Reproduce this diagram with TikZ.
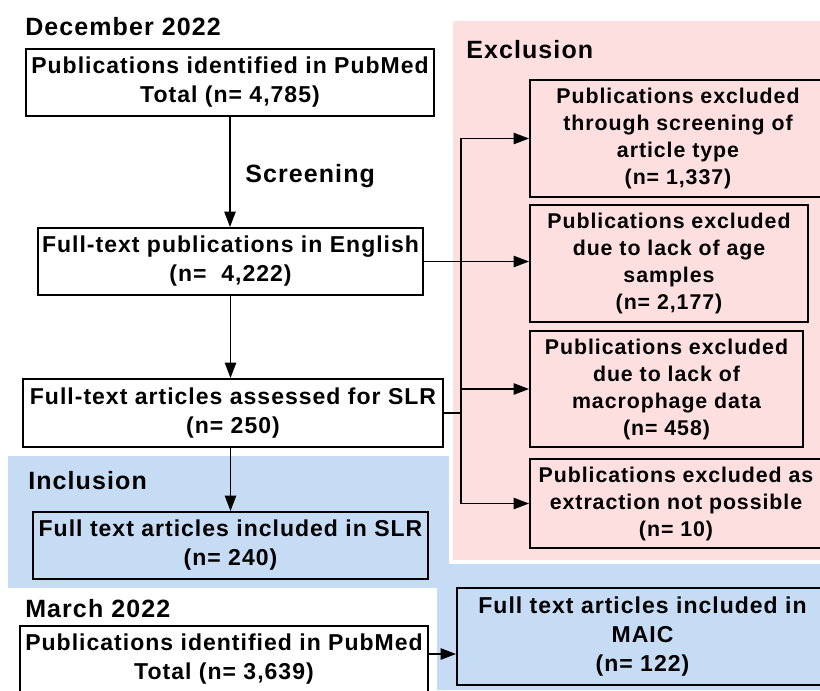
\documentclass[tikz,border=0pt]{standalone}
\usepackage{fontspec}
\usetikzlibrary{arrows.meta,calc}
\newfontfamily\flowfont{Liberation Sans}[LetterSpace=4.4]
\definecolor{exclpink}{RGB}{253,223,223}
\definecolor{inclblue}{RGB}{198,220,245}
\begin{document}
\begin{tikzpicture}[x=0.75pt,y=-0.75pt,
  box/.style={draw=black,line width=1.5pt,inner sep=0pt,align=center,
    font=\flowfont\bfseries\fontsize{17.25pt}{21.75pt}\selectfont},
  exbox/.style={box,font=\flowfont\bfseries\fontsize{16pt}{20.25pt}\selectfont},
  heading/.style={anchor=base west,inner sep=0pt,
    font=\flowfont\bfseries\fontsize{18.75pt}{22pt}\selectfont},
  arr/.style={draw=black,line width=1pt,-{Triangle[length=11.5pt,width=8.5pt]}},
  link/.style={draw=black,line width=1pt}]
\useasboundingbox (0,0) rectangle (820,690);
\clip (0,0) rectangle (820,690);

% shaded panels
\fill[exclpink] (453,21) rectangle (820,560);
\fill[inclblue] (8,456) rectangle (449,588);
\fill[inclblue] (437,564) rectangle (820,690);

% headings
\node[heading] (hdec) at (25,35) {December 2022};
\node[heading] (hscr) at (245,182) {Screening};
\node[heading] (hexc) at (466,58) {Exclusion};
\node[heading] (hinc) at (28,489) {Inclusion};
\node[heading] (hmar) at (25,617) {March 2022};

% main column
\node[box,fill=white,minimum width=306pt,minimum height=50.25pt] (b1) at (230,82.5)
  {Publications identified in PubMed\\Total (n= 4,785)};
\node[box,fill=white,minimum width=288.75pt,minimum height=50.25pt] (b2) at (230.5,261.5)
  {Full-text publications in English\\(n=\ \ 4,222)};
\node[box,fill=white,minimum width=315pt,minimum height=51pt] (b3) at (233,413)
  {Full-text articles assessed for SLR\\(n= 250)};
\node[box,minimum width=296.25pt,minimum height=50.25pt] (b4) at (230.5,545.5)
  {Full text articles included in SLR\\(n= 240)};
\node[box,fill=white,minimum width=306pt,minimum height=50.25pt] (b5) at (224,659.5)
  {Publications identified in PubMed\\Total (n= 3,639)};

% exclusion boxes
\node[exbox,minimum width=222pt,minimum height=87.75pt] (e1) at (678,138.5)
  {Publications excluded\\through screening of\\article type\\(n= 1,337)};
\node[exbox,minimum width=208.5pt,minimum height=87.75pt] (e2) at (669,263.5)
  {Publications excluded\\due to lack of age\\samples\\(n= 2,177)};
\node[exbox,minimum width=204.75pt,minimum height=87pt] (e3) at (666.5,389)
  {Publications excluded\\due to lack of\\macrophage data\\(n= 458)};
\node[exbox,minimum width=219pt,minimum height=66.75pt] (e4) at (676,503.5)
  {Publications excluded as\\extraction not possible\\(n= 10)};

% meta-analysis box
\node[box,minimum width=278.25pt,minimum height=72.75pt] (maic) at (642.5,636.5)
  {Full text articles included in\\MAIC\\(n= 122)};

% connectors
\draw[arr] (b1.south) -- (b1.south |- b2.north);
\draw[arr] (b2.south) -- (b2.south |- b3.north);
\draw[arr] (b3.south -| b2.south) -- (b2.south |- b4.north);
\draw[arr] (b2.east) -- (b2.east -| e2.west);
\coordinate (trunk) at (461,413);
\draw[link] (b3.east) -- (trunk);
\draw[arr] (trunk) |- (e1.west);
\draw[arr] (trunk) |- (e3.west);
\draw[arr] (trunk) |- (e4.west);
\coordinate (b5out) at ($(b5.east)+(0,-5.5)$);
\draw[arr] (b5out) -- (b5out -| maic.west);
\end{tikzpicture}
\end{document}
